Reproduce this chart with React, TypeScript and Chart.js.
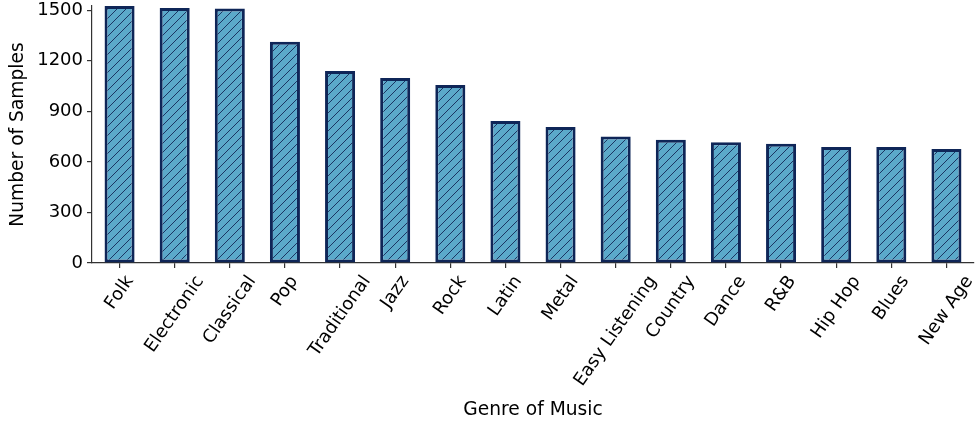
import React, { useEffect, useRef } from 'react';
import { Chart, registerables } from 'chart.js';

Chart.register(...registerables);

const genres = ['Folk', 'Electronic', 'Classical', 'Pop', 'Traditional', 'Jazz', 'Rock', 'Latin', 'Metal', 'Easy Listening', 'Country', 'Dance', 'R&B', 'Hip Hop', 'Blues', 'New Age'];
const samples = [1525, 1513, 1510, 1313, 1140, 1098, 1056, 843, 807, 750, 732, 717, 707, 689, 688, 677];
const yTicks = [0, 300, 600, 900, 1200, 1500];
const yMax = 1525;

const FONT = '"DejaVu Sans", sans-serif';
const TICK_SIZE = 18;
const TITLE_SIZE = 18.67;
const ROT = 55;

function makeHatch(): CanvasPattern | string {
  const s = 9;
  const c = document.createElement('canvas');
  c.width = s;
  c.height = s;
  const g = c.getContext('2d');
  if (!g) return '#5ba9ca';
  g.fillStyle = '#5ba9ca';
  g.fillRect(0, 0, s, s);
  g.strokeStyle = '#1b3563';
  g.lineWidth = 1;
  g.beginPath();
  g.moveTo(0, s);
  g.lineTo(s, 0);
  g.moveTo(-1, 1);
  g.lineTo(1, -1);
  g.moveTo(s - 1, s + 1);
  g.lineTo(s + 1, s - 1);
  g.stroke();
  const p = g.createPattern(c, 'repeat');
  return p || '#5ba9ca';
}

const rotatedLabels = {
  id: 'rotatedLabels',
  afterDraw(chart: any) {
    const xs = chart.scales.x;
    const ctx = chart.ctx as CanvasRenderingContext2D;
    const th = (ROT * Math.PI) / 180;
    const sin = Math.sin(th);
    const cos = Math.cos(th);
    ctx.save();
    ctx.font = `${TICK_SIZE}px ${FONT}`;
    ctx.fillStyle = '#000';
    ctx.textAlign = 'center';
    ctx.textBaseline = 'middle';
    const top = xs.top + 5 + 5;
    genres.forEach((g, i) => {
      const x = xs.getPixelForValue(i);
      const w = ctx.measureText(g).width;
      const h = TICK_SIZE * 0.95;
      const bh = w * sin + h * cos;
      ctx.save();
      ctx.translate(x, top + bh / 2);
      ctx.rotate(-th);
      ctx.fillText(g, 0, 0);
      ctx.restore();
    });
    ctx.restore();
  },
};

export default function App() {
  const ref = useRef<HTMLCanvasElement | null>(null);

  useEffect(() => {
    const canvas = ref.current;
    if (!canvas) return;

    const chart = new Chart(canvas, {
      type: 'bar',
      data: {
        labels: genres,
        datasets: [
          {
            data: samples,
            backgroundColor: makeHatch() as any,
            borderColor: '#0f2658',
            borderWidth: 3,
            borderSkipped: false,
            barPercentage: 0.545,
            categoryPercentage: 1,
          },
        ],
      },
      options: {
        responsive: false,
        animation: false,
        devicePixelRatio: 1,
        layout: { padding: { left: 7, top: 6, right: 2, bottom: 2 } },
        plugins: { legend: { display: false }, tooltip: { enabled: false } },
        scales: {
          x: {
            offset: true,
            grid: { display: true, drawOnChartArea: false, offset: false, tickLength: 5, color: '#333', lineWidth: 1.2 },
            border: { color: '#333', width: 1.2 },
            ticks: { display: false, autoSkip: false },
            title: { display: true, text: 'Genre of Music', color: '#000', font: { family: FONT, size: TITLE_SIZE }, padding: 0 },
            afterFit: (s: any) => {
              s.height = 423 - 263 - 2;
              s.paddingLeft = 0;
              s.paddingRight = 0;
            },
          },
          y: {
            min: 0,
            max: yMax,
            grid: { display: true, drawOnChartArea: false, tickLength: 5, color: '#333', lineWidth: 1.2 },
            border: { color: '#333', width: 1.2 },
            afterBuildTicks: (s: any) => {
              s.ticks = yTicks.map((v) => ({ value: v }));
            },
            ticks: {
              padding: 4,
              color: '#000',
              font: { family: FONT, size: TICK_SIZE },
              callback: (v: any) => String(v),
            },
            title: { display: true, text: 'Number of Samples', color: '#000', font: { family: FONT, size: TITLE_SIZE }, padding: 0 },
            afterFit: (s: any) => {
              s.width = 92 - 7;
              s.paddingTop = 0;
              s.paddingBottom = 0;
            },
          },
        },
      },
      plugins: [rotatedLabels],
    });
    return () => chart.destroy();
  }, []);

  return (
    <div style={{ position: 'absolute', left: 0, top: 0, width: 976, height: 423, background: '#fff' }}>
      <canvas ref={ref} width={976} height={423} style={{ width: 976, height: 423, display: 'block' }} />
    </div>
  );
}
